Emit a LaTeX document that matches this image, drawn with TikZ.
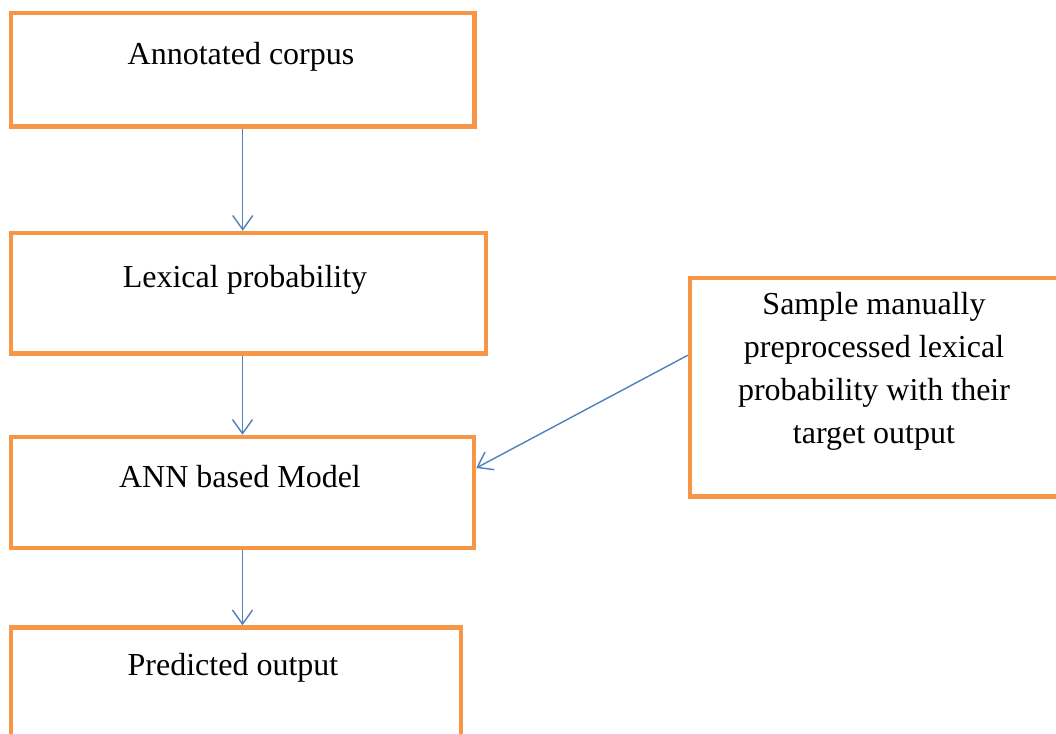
\documentclass[tikz,border=0pt]{standalone}
\usepackage{fontspec}
\setmainfont{Liberation Serif}
\usetikzlibrary{arrows.meta}
\definecolor{boxorange}{HTML}{F79646}
\definecolor{linkblue}{HTML}{4F81BD}
\begin{document}
\begin{tikzpicture}[x=1pt,y=-1pt,
  stagebox/.style={draw=boxorange, line width=4.5pt, fill=none, inner sep=0pt},
  caption/.style={font=\fontsize{32}{43}\selectfont, inner sep=0pt, text=black},
  link/.style={draw=linkblue, line width=1.4pt,
    -{Straight Barb[length=14pt,width=20pt,line width=1.4pt]}}]
  \useasboundingbox (0,0) rectangle (1056,733);
  \clip (0,0) rectangle (1056,733);
  \fill[white] (0,0) rectangle (1056,733);

  % processing stages
  \node[stagebox, minimum width=463.5pt, minimum height=113.5pt] (corpus) at (242.75,69.75) {};
  \node[stagebox, minimum width=475pt, minimum height=120.5pt] (lexprob) at (248.5,293.25) {};
  \node[stagebox, minimum width=463pt, minimum height=111pt] (ann) at (242.5,492.5) {};
  \node[stagebox, minimum width=450pt, minimum height=112.5pt] (pred) at (236,683.75) {};
  \node[stagebox, minimum width=368pt, minimum height=218.5pt] (sample) at (874,387.25) {};

  % stage captions
  \node[caption, anchor=base] (corpusT) at (241,65) {Annotated corpus};
  \node[caption, anchor=base] (lexprobT) at (245,287) {Lexical probability};
  \node[caption, anchor=base] (annT) at (240,487) {ANN based Model};
  \node[caption, anchor=base] (predT) at (233,675) {Predicted output};
  \node[caption, align=center, anchor=center] (sampleT) at (874,371.5)
    {Sample manually\\preprocessed lexical\\probability with their\\target output};

  % flow
  \draw[link] (corpus.south) -- (corpus.south |- lexprob.north);
  \draw[link] (lexprob.south -| ann.north) -- (ann.north);
  \draw[link] (ann.south) -- (ann.south |- pred.north);
  \draw[link] ([yshift=32pt]sample.west) -- ([yshift=24.5pt]ann.east);
\end{tikzpicture}
\end{document}
